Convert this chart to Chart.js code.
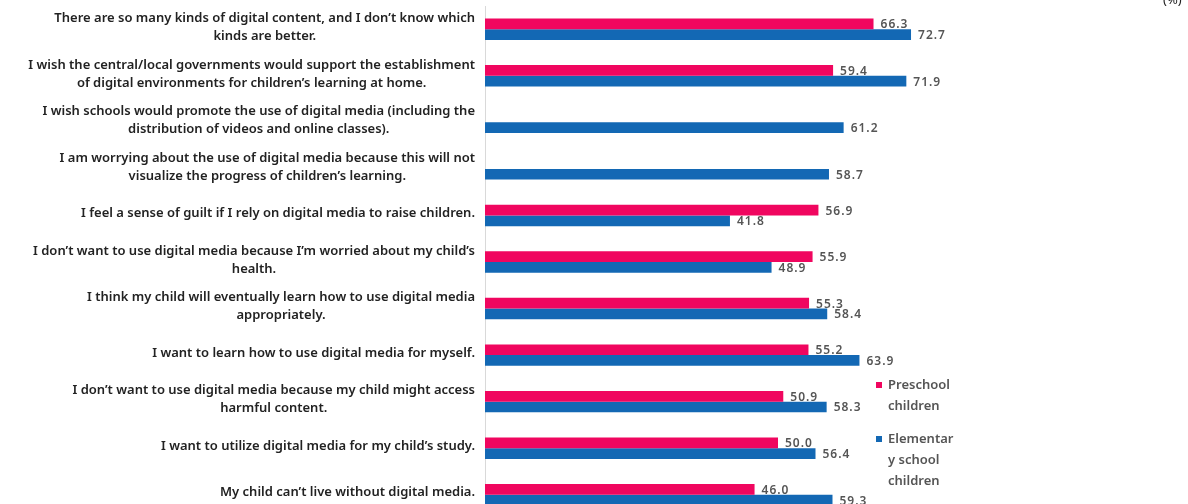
<!DOCTYPE html>
<html>
<head>
<meta charset="utf-8">
<script src="https://cdn.jsdelivr.net/npm/chart.js@4/dist/chart.umd.min.js"></script>
<style>
  html, body { margin: 0; padding: 0; background: #fff; overflow: hidden; }
  #wrap { position: relative; width: 1188px; height: 518px; }
  #unit { position: absolute; left: 1163px; top: -10px; font: 13px 'Noto Sans', sans-serif; color: #222; }
  .legend { position: absolute; left: 876px; font: 600 13px 'Noto Sans', sans-serif; color: #555; line-height: 21px; }
  .legend .sw { position: absolute; left: 0; top: 8px; width: 6px; height: 6px; }
  .legend .txt { margin-left: 12px; }
</style>
</head>
<body>
<div id="wrap">
  <canvas id="chart"></canvas>
  <div id="unit">(%)</div>
  <div class="legend" style="top:374px"><span class="sw" style="background:#f0065f"></span><div class="txt">Preschool<br>children</div></div>
  <div class="legend" style="top:428px"><span class="sw" style="background:#1368b4"></span><div class="txt">Elementar<br>y school<br>children</div></div>
</div>
<script>
const categories = [
  ["There are so many kinds of digital content, and I don\u2019t know which", "kinds are better."],
  ["I wish the central/local governments would support the establishment", "of digital environments for children\u2019s learning at home."],
  ["I wish schools would promote the use of digital media (including the", "distribution of videos and online classes)."],
  ["I am worrying about the use of digital media because this will not", "visualize the progress of children\u2019s learning."],
  ["I feel a sense of guilt if I rely on digital media to raise children."],
  ["I don\u2019t want to use digital media because I\u2019m worried about my child\u2019s", "health."],
  ["I think my child will eventually learn how to use digital media", "appropriately."],
  ["I want to learn how to use digital media for myself."],
  ["I don\u2019t want to use digital media because my child might access", "harmful content."],
  ["I want to utilize digital media for my child\u2019s study."],
  ["My child can\u2019t live without digital media."]
];
const preschool = [66.3, 59.4, null, null, 56.9, 55.9, 55.3, 55.2, 50.9, 50.0, 46.0];
const elementary = [72.7, 71.9, 61.2, 58.7, 41.8, 48.9, 58.4, 63.9, 58.3, 56.4, 59.3];

const PINK = '#f0065f';
const BLUE = '#1368b4';

// left labels: right-aligned block, lines centred inside it
const categoryLabels = {
  id: 'categoryLabels',
  afterDraw(chart) {
    const ctx = chart.ctx;
    const y = chart.scales.y;
    ctx.save();
    ctx.font = "600 13px 'Noto Sans', sans-serif";
    ctx.fillStyle = '#222';
    ctx.textAlign = 'center';
    ctx.textBaseline = 'middle';
    const right = 475;
    const lh = 18;
    categories.forEach((lines, i) => {
      const w = Math.max(...lines.map(l => ctx.measureText(l).width));
      const cx = right - w / 2;
      const cy = y.getPixelForTick(i) - 2;
      const top = cy - (lines.length - 1) * lh / 2;
      lines.forEach((l, j) => ctx.fillText(l, cx, top + j * lh));
    });
    ctx.restore();
  }
};

// value labels right of each bar
const valueLabels = {
  id: 'valueLabels',
  afterDatasetsDraw(chart) {
    const ctx = chart.ctx;
    ctx.save();
    ctx.font = "600 12px 'Noto Sans', sans-serif";
    ctx.letterSpacing = '1px';
    ctx.fillStyle = '#555';
    ctx.textAlign = 'left';
    ctx.textBaseline = 'middle';
    chart.data.datasets.forEach((ds, di) => {
      chart.getDatasetMeta(di).data.forEach((el, i) => {
        const v = ds.data[i];
        if (v == null) return;
        ctx.fillText(v.toFixed(1), el.x + 7, el.y + 1);
      });
    });
    ctx.restore();
  }
};

new Chart(document.getElementById('chart'), {
  type: 'bar',
  data: {
    labels: categories,
    datasets: [
      { label: 'Preschool children', data: preschool, backgroundColor: PINK },
      { label: 'Elementary school children', data: elementary, backgroundColor: BLUE }
    ]
  },
  options: {
    indexAxis: 'y',
    responsive: true,
    maintainAspectRatio: false,
    animation: false,
    layout: { padding: { top: 6, right: 117, bottom: 0, left: 0 } },
    datasets: {
      bar: { categoryPercentage: 0.46, barPercentage: 1 }
    },
    plugins: {
      legend: { display: false },
      tooltip: { enabled: false }
    },
    scales: {
      x: { display: false, min: 0, max: 100 },
      y: {
        afterFit(s) { s.width = 485; },
        ticks: { display: false },
        grid: { display: false },
        border: { display: true, color: '#d9d9d9', width: 1 }
      }
    }
  },
  plugins: [categoryLabels, valueLabels]
});
</script>
</body>
</html>
